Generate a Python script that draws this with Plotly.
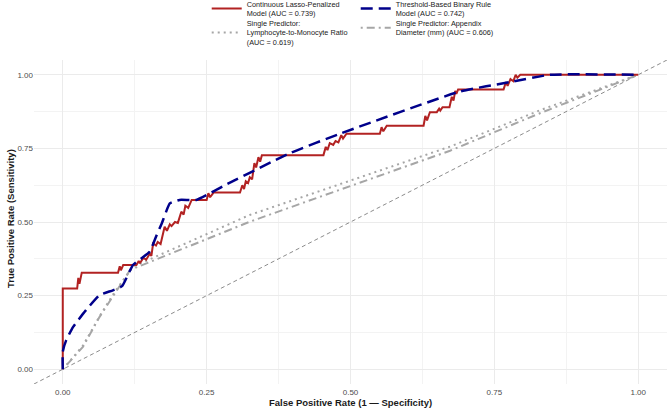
import plotly.graph_objects as go

# ---------------- data ----------------
lasso_fpr = [0, 0, 0.025, 0.027, 0.029, 0.033, 0.096, 0.099, 0.101, 0.105, 0.128, 0.132, 0.134, 0.140, 0.145,
             0.151, 0.154, 0.157, 0.162, 0.165, 0.170, 0.177, 0.181, 0.186, 0.189, 0.195, 0.200, 0.206, 0.210,
             0.213, 0.218, 0.224, 0.250, 0.253, 0.256, 0.262, 0.308, 0.312, 0.315, 0.318, 0.322, 0.325, 0.329,
             0.333, 0.336, 0.340, 0.343, 0.346, 0.453, 0.457, 0.460, 0.464, 0.470, 0.474, 0.479, 0.484, 0.487,
             0.493, 0.551, 0.554, 0.557, 0.563, 0.627, 0.630, 0.633, 0.638, 0.650, 0.654, 0.656, 0.660, 0.672,
             0.676, 0.679, 0.682, 0.684, 0.687, 0.766, 0.770, 0.773, 0.778, 0.783, 0.787, 0.790, 0.795, 1.0]
lasso_tpr = [0, 0.274, 0.274, 0.310, 0.290, 0.328, 0.328, 0.350, 0.336, 0.354, 0.354, 0.368, 0.360, 0.378, 0.372,
             0.392, 0.385, 0.427, 0.420, 0.432, 0.425, 0.484, 0.470, 0.492, 0.486, 0.500, 0.497, 0.535, 0.525,
             0.555, 0.548, 0.575, 0.575, 0.598, 0.584, 0.600, 0.600, 0.625, 0.612, 0.638, 0.632, 0.652, 0.645,
             0.700, 0.685, 0.720, 0.705, 0.727, 0.727, 0.755, 0.744, 0.768, 0.762, 0.775, 0.770, 0.795, 0.783,
             0.800, 0.800, 0.822, 0.808, 0.827, 0.827, 0.860, 0.845, 0.873, 0.873, 0.885, 0.878, 0.890, 0.890,
             0.925, 0.912, 0.945, 0.935, 0.950, 0.950, 0.975, 0.962, 0.985, 0.978, 1.0, 0.990, 1.0, 1.0]

rule_fpr = [0, 0, 0.006, 0.018, 0.040, 0.064, 0.087, 0.103, 0.122, 0.151, 0.162, 0.172, 0.186, 0.203, 0.232,
            0.261, 0.279, 0.395, 0.482, 0.690, 0.783, 0.847, 1.0]
rule_tpr = [0, 0.060, 0.099, 0.144, 0.200, 0.252, 0.268, 0.282, 0.354, 0.399, 0.450, 0.495, 0.563, 0.575, 0.575,
            0.603, 0.622, 0.734, 0.800, 0.943, 0.977, 1.0, 1.0]

lmr_fpr = [0, 0.035, 0.064, 0.090, 0.122, 0.325, 0.673, 0.830, 1.0]
lmr_tpr = [0, 0.080, 0.180, 0.262, 0.348, 0.524, 0.756, 0.880, 1.0]

diam_fpr = [0, 0.035, 0.064, 0.090, 0.099, 0.117, 0.325, 0.673, 0.830, 1.0]
diam_tpr = [0, 0.076, 0.178, 0.257, 0.280, 0.337, 0.501, 0.742, 0.870, 1.0]

names = [
    "Continuous Lasso-Penalized<br>Model (AUC = 0.739)",
    "Threshold-Based Binary Rule<br>Model (AUC = 0.742)",
    "Single Predictor:<br>Lymphocyte-to-Monocyte Ratio<br>(AUC = 0.619)",
    "Single Predictor: Appendix<br>Diameter (mm) (AUC = 0.606)",
]
x_title = "False Positive Rate (1 — Specificity)"
y_title = "True Positive Rate (Sensitivity)"
tick_vals = [0, 0.25, 0.5, 0.75, 1.0]
tick_text = ["0.00", "0.25", "0.50", "0.75", "1.00"]
axis_range = [-0.05, 1.05]

FONT = "Liberation Sans, Arial, sans-serif"

fig = go.Figure()

# reference diagonal spanning the whole panel
fig.add_trace(go.Scatter(x=axis_range, y=axis_range, mode="lines",
                         line=dict(color="#8c8c8c", width=1, dash="4px,3px"),
                         showlegend=False, hoverinfo="skip"))

fig.add_trace(go.Scatter(x=lmr_fpr, y=lmr_tpr, mode="lines", name=names[2],
                         line=dict(color="#a6a6a6", width=2, dash="2px,4px"), legend="legend2"))
fig.add_trace(go.Scatter(x=diam_fpr, y=diam_tpr, mode="lines", name=names[3],
                         line=dict(color="#a6a6a6", width=2, dash="2px,4px,8px,4px"), legend="legend2"))
fig.add_trace(go.Scatter(x=lasso_fpr, y=lasso_tpr, mode="lines", name=names[0],
                         line=dict(color="#B22222", width=2), legend="legend"))
fig.add_trace(go.Scatter(x=rule_fpr, y=rule_tpr, mode="lines", name=names[1],
                         line=dict(color="#00008B", width=2.5, dash="12px,6px", shape="spline", smoothing=0.4),
                         legend="legend"))

legend_common = dict(orientation="h", xref="container", yref="paper", xanchor="left", yanchor="top",
                     entrywidth=104, font=dict(family=FONT, size=7.3, color="#1a1a1a"),
                     bgcolor="rgba(0,0,0,0)", itemwidth=30, valign="middle")

axis_common = dict(range=axis_range, tickvals=tick_vals, ticktext=tick_text, showline=False, zeroline=False,
                   gridcolor="#ebebeb", gridwidth=1, automargin=False,
                   minor=dict(showgrid=True, gridcolor="#f3f3f3", gridwidth=0.7, dtick=0.125, tick0=0.125),
                   tickfont=dict(size=8, color="#4d4d4d"), ticks="")

fig.update_layout(
    width=669, height=409,
    margin=dict(l=34, r=2, t=60, b=25, autoexpand=False),
    plot_bgcolor="white", paper_bgcolor="white",
    font=dict(family=FONT, size=8, color="#4d4d4d"),
    legend=dict(**legend_common, x=0.309, y=1.208),
    legend2=dict(**legend_common, x=0.309, y=1.149),
    xaxis=dict(**axis_common, ticklabelstandoff=2),
    yaxis=dict(**axis_common),
    annotations=[
        dict(text="<b>" + x_title + "</b>", xref="paper", yref="paper", x=0.5, y=-0.056,
             xanchor="center", yanchor="middle", showarrow=False,
             font=dict(family=FONT, size=9.5, color="#1a1a1a")),
        dict(text="<b>" + y_title + "</b>", xref="paper", yref="paper", x=-0.038, y=0.512,
             xanchor="center", yanchor="middle", showarrow=False, textangle=-90,
             font=dict(family=FONT, size=9.5, color="#1a1a1a")),
    ],
)

fig.write_html("out.html")
